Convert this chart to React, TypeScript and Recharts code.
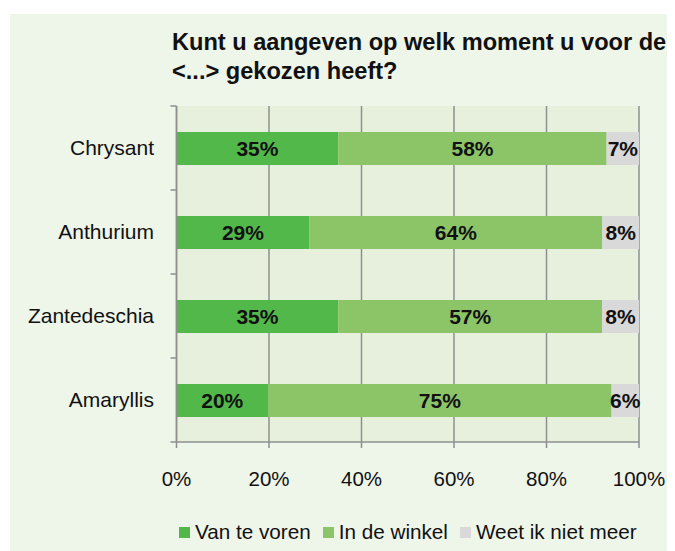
import { BarChart, Bar, XAxis, YAxis, CartesianGrid, Legend, LabelList } from "recharts";

const categories = ["Chrysant", "Anthurium", "Zantedeschia", "Amaryllis"];
const vanTeVoren = [35, 29, 35, 20];
const inDeWinkel = [58, 64, 57, 75];
const weetNiet = [7, 8, 8, 6];
const xTicks = [0, 0.2, 0.4, 0.6, 0.8, 1];

const series = [
    { key: "vanTeVoren", name: "Van te voren", color: "#53b84a" },
    { key: "inDeWinkel", name: "In de winkel", color: "#8cc568" },
    { key: "weetNiet", name: "Weet ik niet meer", color: "#d9d9d9" },
];

const FONT = '"Liberation Sans", Arial, sans-serif';
const AXIS = "#8f8f8f";
const W = 665;
const H = 537;
const MARGIN = { top: 92, right: 36, left: 0, bottom: 7 };
const Y_WIDTH = 166.5;
const X_HEIGHT = 78;
const LEGEND_H = 24;
const PLOT_H = H - MARGIN.top - MARGIN.bottom - X_HEIGHT - LEGEND_H;

const data = categories.map((name, i) => ({
    name,
    vanTeVoren: vanTeVoren[i],
    inDeWinkel: inDeWinkel[i],
    weetNiet: weetNiet[i],
}));

function CategoryTick(props: any) {
    const { x, y, payload, index } = props;
    const axisX = x + 22.5;
    const half = payload?.offset || PLOT_H / categories.length / 2;
    return (
        <g>
            <text x={x} y={y} dy="0.35em" textAnchor="end" fontSize={21} fill="#111" fontFamily={FONT}>
                {payload.value}
            </text>
            <line x1={axisX - 6} x2={axisX} y1={y - half} y2={y - half} stroke={AXIS} strokeWidth={1.5} />
            {index === categories.length - 1 && (
                <line x1={axisX - 6} x2={axisX} y1={y + half} y2={y + half} stroke={AXIS} strokeWidth={1.5} />
            )}
        </g>
    );
}

function LegendContent() {
    return (
        <div
            style={{
                display: "flex",
                justifyContent: "center",
                alignItems: "center",
                gap: 12,
                height: LEGEND_H,
                fontFamily: FONT,
                fontSize: 20.7,
                color: "#111",
                whiteSpace: "nowrap",
            }}
        >
            {series.map((s) => (
                <div key={s.key} style={{ display: "flex", alignItems: "center" }}>
                    <span style={{ width: 11, height: 11, background: s.color, marginRight: 5, display: "inline-block" }} />
                    <span>{s.name}</span>
                </div>
            ))}
        </div>
    );
}

export default function App() {
    return (
        <div style={{ position: "relative", width: W, height: H, marginTop: 6, marginLeft: 2, background: "#eef5e9" }}>
            <div
                style={{
                    position: "absolute",
                    left: 162,
                    top: 14,
                    fontFamily: FONT,
                    fontWeight: "bold",
                    fontSize: 23.6,
                    lineHeight: "29px",
                    color: "#111",
                    whiteSpace: "nowrap",
                }}
            >
                Kunt u aangeven op welk moment u voor de
                <br />
                {"<...> gekozen heeft?"}
            </div>
            <BarChart width={W} height={H} data={data} layout="vertical" stackOffset="expand" margin={MARGIN}>
                <CartesianGrid horizontal={false} stroke={AXIS} strokeWidth={1.5} fill="#e6f0dd" verticalValues={xTicks} />
                <XAxis
                    type="number"
                    domain={[0, 1]}
                    ticks={xTicks}
                    tickFormatter={(v: number) => `${Math.round(v * 100)}%`}
                    height={X_HEIGHT}
                    axisLine={{ stroke: AXIS, strokeWidth: 1.5 }}
                    tickLine={{ stroke: AXIS, strokeWidth: 1.5 }}
                    tickSize={6}
                    tickMargin={23}
                    tick={{ fontSize: 20.5, fill: "#111", fontFamily: FONT }}
                />
                <YAxis
                    type="category"
                    dataKey="name"
                    width={Y_WIDTH}
                    axisLine={{ stroke: AXIS, strokeWidth: 1.5 }}
                    tickLine={false}
                    tickSize={5}
                    tickMargin={17.5}
                    tick={<CategoryTick />}
                />
                <Legend
                    verticalAlign="bottom"
                    height={LEGEND_H}
                    wrapperStyle={{ left: Y_WIDTH - 40, width: W - Y_WIDTH - MARGIN.right + 80 }}
                    content={<LegendContent />}
                />
                {series.map((s) => (
                    <Bar key={s.key} dataKey={s.key} name={s.name} stackId="a" fill={s.color} barSize={33} isAnimationActive={false}>
                        <LabelList
                            dataKey={s.key}
                            position="center"
                            formatter={(v: any) => `${v}%`}
                            style={{ fontSize: 21, fontWeight: "bold", fill: "#111", fontFamily: FONT }}
                        />
                    </Bar>
                ))}
            </BarChart>
        </div>
    );
}
